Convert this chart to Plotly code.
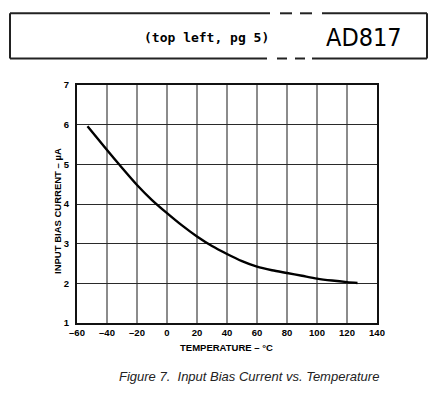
import plotly.graph_objects as go

# ---- data ----
temperature_c = [-53, -40, -32, -20, -10, 0, 10, 20, 30, 40, 50, 60, 70, 80, 90, 100, 110, 120, 127]
bias_current_ua = [5.96, 5.36, 5.0, 4.48, 4.1, 3.77, 3.46, 3.18, 2.94, 2.74, 2.56, 2.42, 2.33, 2.26, 2.19, 2.12, 2.07, 2.03, 2.01]

x_ticks = [-60, -40, -20, 0, 20, 40, 60, 80, 100, 120, 140]
x_tick_labels = ["\u201360", "\u201340", "\u201320", "0", "20", "40", "60", "80", "100", "120", "140"]
y_ticks = [1, 2, 3, 4, 5, 6, 7]
y_tick_labels = ["1", "2", "3", "4", "5", "6", "7"]

x_title = "TEMPERATURE \u2013 \u00b0C"
y_title = "INPUT BIAS CURRENT \u2013 \u00b5A"
caption = "<i>Figure 7.  Input Bias Current vs. Temperature</i>"
header_note = "<b>(top left, pg 5)</b>"
header_part = "AD817"

W, H = 437, 398
L, R, T, B = 77, 377, 85, 323


def px(x):
    return (x - L) / (R - L)


def py(y):
    return (B - y) / (B - T)


fig = go.Figure()
fig.add_trace(go.Scatter(
    x=temperature_c, y=bias_current_ua, mode="lines",
    line=dict(color="black", width=2.4, shape="spline", smoothing=0.8),
    hoverinfo="skip", showlegend=False,
))

tick_font = dict(family="Liberation Sans, Arial, sans-serif", size=9.5, color="black", weight="bold")

fig.update_xaxes(
    range=[-60, 140], tickvals=x_ticks, ticktext=x_tick_labels,
    showgrid=True, gridcolor="#8c8c8c", gridwidth=1.6,
    showline=True, linecolor="#111", linewidth=2, mirror=True,
    ticks="", tickfont=tick_font, zeroline=False,
    fixedrange=True,
)
fig.update_yaxes(
    range=[1, 7], tickvals=y_ticks, ticktext=y_tick_labels,
    showgrid=True, gridcolor="#2a2a2a", gridwidth=1.2,
    showline=True, linecolor="#111", linewidth=2, mirror=True,
    ticks="", tickfont=tick_font, zeroline=False,
    ticklabelstandoff=4, fixedrange=True,
)

shapes = []
line_style = dict(color="#222", width=2)


def seg(x0, y0, x1, y1):
    shapes.append(dict(type="line", xref="paper", yref="paper",
                       x0=px(x0), y0=py(y0), x1=px(x1), y1=py(y1), line=line_style))


# header box with broken (dashed) section
top, bot, left, right = 13.3, 58.5, 10, 427
seg(left, top, left, bot)
seg(right, top, right, bot)
seg(left, top, 270, top)
seg(280, top, 292, top)
seg(300, top, 312, top)
seg(322, top, right, top)
seg(left, bot, 267, bot)
seg(277, bot, 287, bot)
seg(295, bot, 305, bot)
seg(312, bot, right, bot)

label_font = dict(family="Liberation Sans, Arial, sans-serif", size=9.5, color="black")

annotations = [
    dict(text=header_note, x=px(206), y=py(37), xref="paper", yref="paper",
         showarrow=False, xanchor="center", yanchor="middle",
         font=dict(family="DejaVu Sans Mono, monospace", size=13, color="black")),
    dict(text=header_part, x=px(364), y=py(37), xref="paper", yref="paper",
         showarrow=False, xanchor="center", yanchor="middle",
         font=dict(family="Liberation Sans Narrow, DejaVu Sans Condensed, Arial Narrow, sans-serif", size=25, color="black")),
    dict(text="<b>" + x_title + "</b>", x=px(226), y=py(347), xref="paper", yref="paper",
         showarrow=False, xanchor="center", yanchor="middle",
         font=label_font),
    dict(text="<b>" + y_title + "</b>", x=px(57), y=py(211), xref="paper", yref="paper",
         showarrow=False, xanchor="center", yanchor="middle", textangle=-90,
         font=label_font),
    dict(text=caption, x=px(249), y=py(376), xref="paper", yref="paper",
         showarrow=False, xanchor="center", yanchor="middle",
         font=dict(family="Liberation Sans, Arial, sans-serif", size=13, color="#222")),
]

fig.update_layout(
    width=W, height=H,
    margin=dict(l=L, r=W - R, t=T, b=H - B, pad=0),
    paper_bgcolor="white", plot_bgcolor="white",
    shapes=shapes, annotations=annotations,
    showlegend=False,
)

fig.write_html(
    "out.html",
    config={"displayModeBar": False},
    post_script="document.body.style.margin='0';document.body.style.padding='0';document.body.style.overflow='hidden';",
)
